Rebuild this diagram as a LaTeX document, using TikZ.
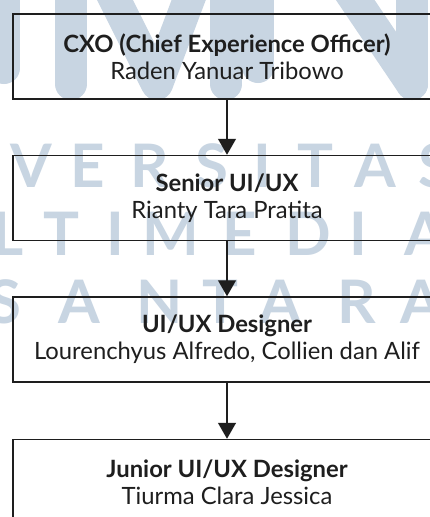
\documentclass[tikz,border=0pt]{standalone}
\usepackage{fontspec}
\setmainfont{Lato}
\usetikzlibrary{arrows.meta}
\definecolor{wm}{RGB}{200,213,226}
\definecolor{ink}{RGB}{30,30,30}
\tikzset{
  role/.style={draw=ink, line width=1.5pt, minimum width=428pt, minimum height=85pt,
    align=center, inner sep=0pt, text=ink, font=\fontsize{23.8}{27}\selectfont},
  arr/.style={draw=ink, line width=1.4pt, -{Triangle[width=18pt,length=16pt]}},
  wmstroke/.style={draw=wm, line width=32pt, line cap=round, line join=round},
  wmletter/.style={text=wm, anchor=base, inner sep=0pt, font=\fontsize{60}{60}\selectfont\bfseries}
}
\begin{document}
\begin{tikzpicture}[x=1pt, y=-1pt]
\useasboundingbox (0,0) rectangle (430,517);
\fill[white] (0,0) rectangle (430,517);

% background logo strokes
\draw[wmstroke] (4,-60) -- (4,68);
\draw[wmstroke] (71,-60) -- (71,84);
\draw[wmstroke] (100,-30) -- (157,84) -- (200,-30);
\draw[wmstroke] (226,-60) -- (226,84);
\draw[wmstroke] (258,-60) -- (258,67);
\draw[wmstroke] (335,-30) -- (412,84);
\draw[wmstroke] (412,-60) -- (412,84);

% background lettering
\foreach \x/\l in {31/V, 88/E, 150/R, 212/S, 262/I, 315/T, 375/A, 435/S}
  \node[wmletter] at (\x,187) {\l};
\foreach \x/\l in {8/L, 61/T, 115/I, 171/M, 240/E, 308/D, 358/I, 425/A}
  \node[wmletter] at (\x,255) {\l};
\foreach \x/\l in {5/S, 79/A, 160/N, 220/T, 280/A, 357/R, 421/A}
  \node[wmletter] at (\x,323) {\l};

% hierarchy
\node[role] (cxo) at (227,56.5) {\textbf{CXO (Chief Experience Officer)}\\Raden Yanuar Tribowo};
\node[role] (senior) at (227,198) {\textbf{Senior UI/UX}\\Rianty Tara Pratita};
\node[role] (designer) at (227,339.5) {\textbf{UI/UX Designer}\\Lourenchyus Alfredo, Collien dan Alif};
\node[role] (junior) at (227,482) {\textbf{Junior UI/UX Designer}\\Tiurma Clara Jessica};

\draw[arr] (cxo.south) -- (senior.north);
\draw[arr] (senior.south) -- (designer.north);
\draw[arr] (designer.south) -- (junior.north);
\end{tikzpicture}
\end{document}
